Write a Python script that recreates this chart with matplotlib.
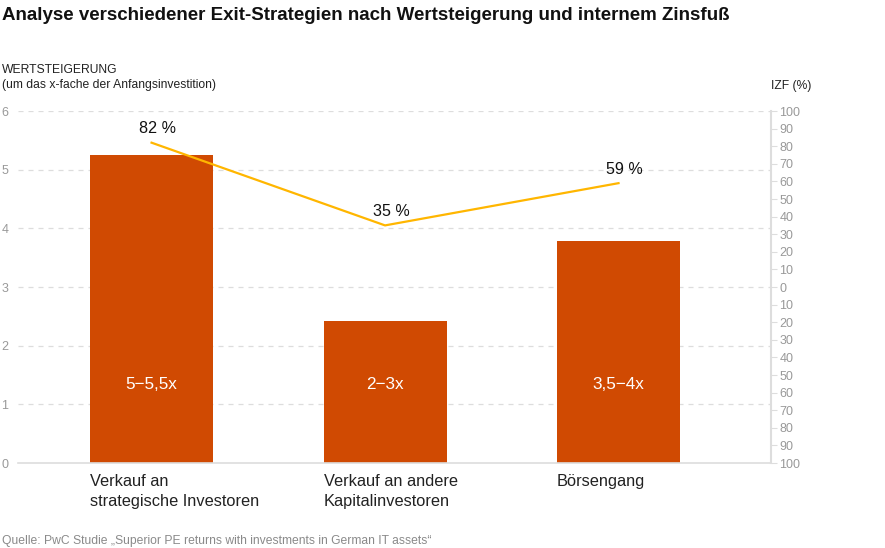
import matplotlib
matplotlib.use("Agg")
import matplotlib.pyplot as plt

plt.rcParams['font.family'] = ['Liberation Sans', 'DejaVu Sans']

categories = ["Verkauf an\nstrategische Investoren", "Verkauf an andere\nKapitalinvestoren", "Börsengang"]
multiples = [5.25, 2.42, 3.78]
multiple_labels = ["5−5,5x", "2−3x", "3,5−4x"]
irr = [82, 35, 59]
irr_labels = ["82 %", "35 %", "59 %"]
left_ticks = [0, 1, 2, 3, 4, 5, 6]
right_ticks = list(range(-100, 101, 10))

BAR = "#D04A02"
LINE = "#FFB600"
GRID = "#DDDDDD"
TICKC = "#999999"

W, H = 885, 548
fig = plt.figure(figsize=(W / 100, H / 100), dpi=100)
L, R, B, T = 18, 771, 463, 111
ax = fig.add_axes([L / W, 1 - B / H, (R - L) / W, (B - T) / H])

x = list(range(len(categories)))
ax.bar(x, multiples, width=0.527, color=BAR, zorder=2)
ax.set_xlim(-0.572, 2.653)
ax.set_ylim(0, 6)
ax.set_yticks(left_ticks)
ax.set_yticklabels([str(t) for t in left_ticks])
ax.tick_params(axis='y', length=0, pad=7, labelsize=9, labelcolor=TICKC)
ax.set_xticks([])
for t in left_ticks[1:]:
    ax.axhline(t, color=GRID, lw=0.9, ls=(0, (4, 4)), zorder=1)
for s in ['top', 'left', 'right']:
    ax.spines[s].set_visible(False)
ax.spines['bottom'].set_color(GRID)
ax.spines['bottom'].set_linewidth(1.2)

for xi, lab in zip(x, multiple_labels):
    ax.text(xi, 1.33, lab, color='white', fontsize=12.3, ha='center', va='center', zorder=3)

for xi, cat in zip(x, categories):
    ax.annotate(cat, xy=(xi - 0.263, 0), xycoords=('data', 'axes fraction'),
                xytext=(0, -11), textcoords='offset pixels', ha='left', va='top',
                fontsize=11.8, color='#222222', linespacing=1.38)

ax2 = ax.twinx()
ax2.set_ylim(-100, 100)
ax2.set_yticks(right_ticks)
ax2.set_yticklabels([str(abs(t)) for t in right_ticks])
ax2.tick_params(axis='y', direction='out', length=4, width=0.8, color=GRID,
                labelsize=9, labelcolor=TICKC, pad=2)
for s in ['top', 'left', 'bottom']:
    ax2.spines[s].set_visible(False)
ax2.spines['right'].set_color(GRID)
ax2.spines['right'].set_linewidth(1.5)
ax2.plot(x, irr, color=LINE, lw=1.6, zorder=4)
for xi, v, lab in zip(x, irr, irr_labels):
    ax2.annotate(lab, xy=(xi, v), xytext=(6, 14), textcoords='offset pixels',
                 ha='center', va='center', fontsize=11.6, color='#111111')

fig.text(2 / W, 1 - 15 / H, "Analyse verschiedener Exit-Strategien nach Wertsteigerung und internem Zinsfuß",
         fontsize=13.5, fontweight='bold', ha='left', va='center', color='#111111')
fig.text(2 / W, 1 - 70 / H, "WERTSTEIGERUNG", fontsize=8.7, ha='left', va='center', color='#222222')
fig.text(2 / W, 1 - 85 / H, "(um das x-fache der Anfangsinvestition)", fontsize=8.7, ha='left', va='center', color='#222222')
fig.text(771 / W, 1 - 86 / H, "IZF (%)", fontsize=8.7, ha='left', va='center', color='#222222')
fig.text(2 / W, 1 - 541 / H, "Quelle: PwC Studie „Superior PE returns with investments in German IT assets“",
         fontsize=8.7, ha='left', va='center', color='#8A8A8A')

fig.savefig("out.png", dpi=100)
